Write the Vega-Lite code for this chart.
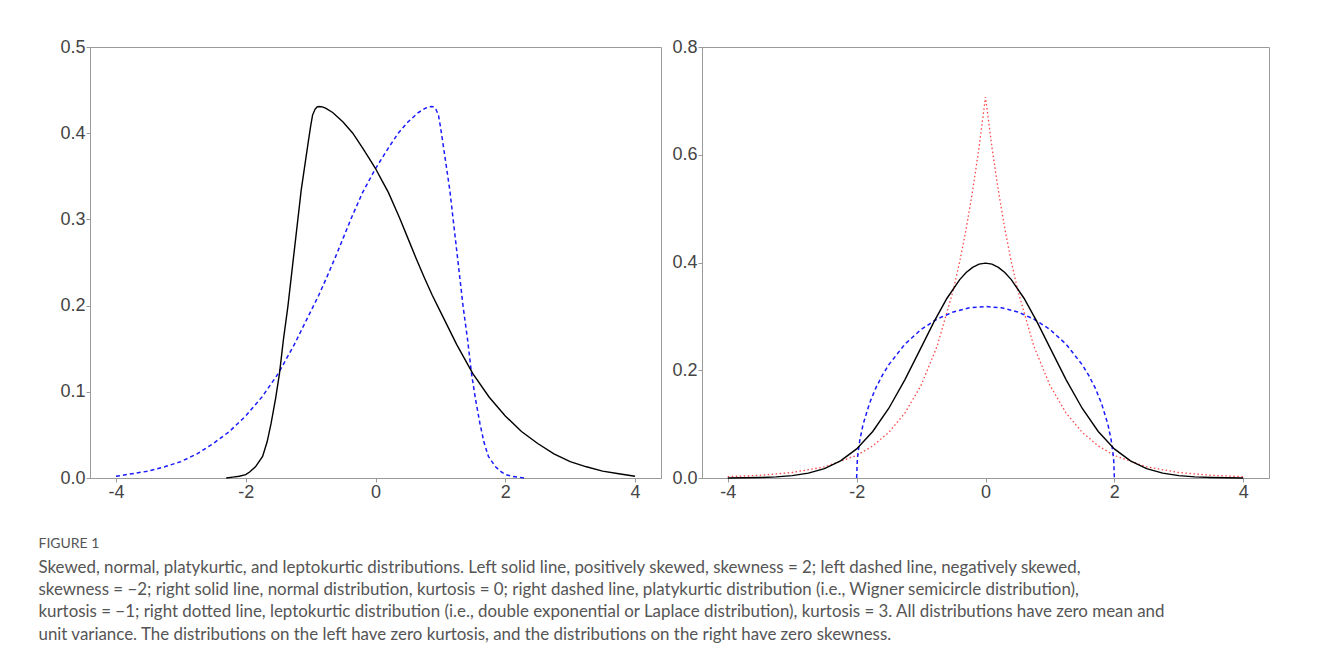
{
  "$schema": "https://vega.github.io/schema/vega-lite/v6.json",
  "background": "white",
  "padding": {"left": 38, "top": 37, "right": 5, "bottom": 5},
  "spacing": 9,
  "datasets": {
    "left": [
      {"series": "pos", "x": -2.3, "y": 0.0},
      {"series": "pos", "x": -2.2, "y": 0.001},
      {"series": "pos", "x": -2.1, "y": 0.002},
      {"series": "pos", "x": -2.0, "y": 0.004},
      {"series": "pos", "x": -1.94, "y": 0.007},
      {"series": "pos", "x": -1.85, "y": 0.013},
      {"series": "pos", "x": -1.74, "y": 0.025},
      {"series": "pos", "x": -1.67, "y": 0.042},
      {"series": "pos", "x": -1.61, "y": 0.063},
      {"series": "pos", "x": -1.54, "y": 0.092},
      {"series": "pos", "x": -1.48, "y": 0.121},
      {"series": "pos", "x": -1.42, "y": 0.16},
      {"series": "pos", "x": -1.35, "y": 0.199},
      {"series": "pos", "x": -1.25, "y": 0.265},
      {"series": "pos", "x": -1.145, "y": 0.334},
      {"series": "pos", "x": -1.04, "y": 0.388},
      {"series": "pos", "x": -1.0, "y": 0.408},
      {"series": "pos", "x": -0.97, "y": 0.421},
      {"series": "pos", "x": -0.93, "y": 0.428},
      {"series": "pos", "x": -0.9, "y": 0.4305},
      {"series": "pos", "x": -0.87, "y": 0.431},
      {"series": "pos", "x": -0.82, "y": 0.4305},
      {"series": "pos", "x": -0.77, "y": 0.429},
      {"series": "pos", "x": -0.66, "y": 0.424},
      {"series": "pos", "x": -0.5, "y": 0.413},
      {"series": "pos", "x": -0.35, "y": 0.4},
      {"series": "pos", "x": -0.2, "y": 0.383},
      {"series": "pos", "x": -0.1, "y": 0.371},
      {"series": "pos", "x": 0.0, "y": 0.359},
      {"series": "pos", "x": 0.1, "y": 0.345},
      {"series": "pos", "x": 0.2, "y": 0.331},
      {"series": "pos", "x": 0.37, "y": 0.302},
      {"series": "pos", "x": 0.5, "y": 0.278},
      {"series": "pos", "x": 0.625, "y": 0.255},
      {"series": "pos", "x": 0.75, "y": 0.233},
      {"series": "pos", "x": 0.875, "y": 0.212},
      {"series": "pos", "x": 1.0, "y": 0.193},
      {"series": "pos", "x": 1.25, "y": 0.155},
      {"series": "pos", "x": 1.5, "y": 0.121},
      {"series": "pos", "x": 1.75, "y": 0.094},
      {"series": "pos", "x": 2.0, "y": 0.072},
      {"series": "pos", "x": 2.25, "y": 0.054},
      {"series": "pos", "x": 2.5, "y": 0.04},
      {"series": "pos", "x": 2.75, "y": 0.028},
      {"series": "pos", "x": 3.0, "y": 0.019},
      {"series": "pos", "x": 3.25, "y": 0.013},
      {"series": "pos", "x": 3.5, "y": 0.008},
      {"series": "pos", "x": 3.75, "y": 0.005},
      {"series": "pos", "x": 4.0, "y": 0.002},
      {"series": "neg", "x": 2.3, "y": 0.0},
      {"series": "neg", "x": 2.2, "y": 0.001},
      {"series": "neg", "x": 2.1, "y": 0.002},
      {"series": "neg", "x": 2.0, "y": 0.004},
      {"series": "neg", "x": 1.94, "y": 0.007},
      {"series": "neg", "x": 1.85, "y": 0.013},
      {"series": "neg", "x": 1.74, "y": 0.025},
      {"series": "neg", "x": 1.67, "y": 0.042},
      {"series": "neg", "x": 1.61, "y": 0.063},
      {"series": "neg", "x": 1.54, "y": 0.092},
      {"series": "neg", "x": 1.48, "y": 0.121},
      {"series": "neg", "x": 1.42, "y": 0.16},
      {"series": "neg", "x": 1.35, "y": 0.199},
      {"series": "neg", "x": 1.25, "y": 0.265},
      {"series": "neg", "x": 1.145, "y": 0.334},
      {"series": "neg", "x": 1.04, "y": 0.388},
      {"series": "neg", "x": 1.0, "y": 0.408},
      {"series": "neg", "x": 0.97, "y": 0.421},
      {"series": "neg", "x": 0.93, "y": 0.428},
      {"series": "neg", "x": 0.9, "y": 0.4305},
      {"series": "neg", "x": 0.87, "y": 0.431},
      {"series": "neg", "x": 0.82, "y": 0.4305},
      {"series": "neg", "x": 0.77, "y": 0.429},
      {"series": "neg", "x": 0.66, "y": 0.424},
      {"series": "neg", "x": 0.5, "y": 0.413},
      {"series": "neg", "x": 0.35, "y": 0.4},
      {"series": "neg", "x": 0.2, "y": 0.383},
      {"series": "neg", "x": 0.1, "y": 0.371},
      {"series": "neg", "x": 0.0, "y": 0.359},
      {"series": "neg", "x": -0.1, "y": 0.345},
      {"series": "neg", "x": -0.2, "y": 0.331},
      {"series": "neg", "x": -0.37, "y": 0.302},
      {"series": "neg", "x": -0.5, "y": 0.278},
      {"series": "neg", "x": -0.625, "y": 0.255},
      {"series": "neg", "x": -0.75, "y": 0.233},
      {"series": "neg", "x": -0.875, "y": 0.212},
      {"series": "neg", "x": -1.0, "y": 0.193},
      {"series": "neg", "x": -1.25, "y": 0.155},
      {"series": "neg", "x": -1.5, "y": 0.121},
      {"series": "neg", "x": -1.75, "y": 0.094},
      {"series": "neg", "x": -2.0, "y": 0.072},
      {"series": "neg", "x": -2.25, "y": 0.054},
      {"series": "neg", "x": -2.5, "y": 0.04},
      {"series": "neg", "x": -2.75, "y": 0.028},
      {"series": "neg", "x": -3.0, "y": 0.019},
      {"series": "neg", "x": -3.25, "y": 0.013},
      {"series": "neg", "x": -3.5, "y": 0.008},
      {"series": "neg", "x": -3.75, "y": 0.005},
      {"series": "neg", "x": -4.0, "y": 0.002}
    ],
    "right": [
      {"series": "laplace", "x": -4.0, "y": 0.0025},
      {"series": "laplace", "x": -3.5, "y": 0.005},
      {"series": "laplace", "x": -3.0, "y": 0.0102},
      {"series": "laplace", "x": -2.5, "y": 0.0206},
      {"series": "laplace", "x": -2.0, "y": 0.0418},
      {"series": "laplace", "x": -1.75, "y": 0.0595},
      {"series": "laplace", "x": -1.5, "y": 0.0848},
      {"series": "laplace", "x": -1.25, "y": 0.1207},
      {"series": "laplace", "x": -1.0, "y": 0.1719},
      {"series": "laplace", "x": -0.75, "y": 0.2448},
      {"series": "laplace", "x": -0.5, "y": 0.3487},
      {"series": "laplace", "x": -0.4, "y": 0.4016},
      {"series": "laplace", "x": -0.3, "y": 0.4626},
      {"series": "laplace", "x": -0.2, "y": 0.5329},
      {"series": "laplace", "x": -0.1, "y": 0.6138},
      {"series": "laplace", "x": 0.0, "y": 0.7071},
      {"series": "laplace", "x": 0.1, "y": 0.6138},
      {"series": "laplace", "x": 0.2, "y": 0.5329},
      {"series": "laplace", "x": 0.3, "y": 0.4626},
      {"series": "laplace", "x": 0.4, "y": 0.4016},
      {"series": "laplace", "x": 0.5, "y": 0.3487},
      {"series": "laplace", "x": 0.75, "y": 0.2448},
      {"series": "laplace", "x": 1.0, "y": 0.1719},
      {"series": "laplace", "x": 1.25, "y": 0.1207},
      {"series": "laplace", "x": 1.5, "y": 0.0848},
      {"series": "laplace", "x": 1.75, "y": 0.0595},
      {"series": "laplace", "x": 2.0, "y": 0.0418},
      {"series": "laplace", "x": 2.5, "y": 0.0206},
      {"series": "laplace", "x": 3.0, "y": 0.0102},
      {"series": "laplace", "x": 3.5, "y": 0.005},
      {"series": "laplace", "x": 4.0, "y": 0.0025},
      {"series": "normal", "x": -4.0, "y": 0.0001},
      {"series": "normal", "x": -3.75, "y": 0.0004},
      {"series": "normal", "x": -3.5, "y": 0.0009},
      {"series": "normal", "x": -3.25, "y": 0.002},
      {"series": "normal", "x": -3.0, "y": 0.0044},
      {"series": "normal", "x": -2.75, "y": 0.0091},
      {"series": "normal", "x": -2.5, "y": 0.0175},
      {"series": "normal", "x": -2.25, "y": 0.0317},
      {"series": "normal", "x": -2.0, "y": 0.054},
      {"series": "normal", "x": -1.75, "y": 0.0863},
      {"series": "normal", "x": -1.5, "y": 0.1295},
      {"series": "normal", "x": -1.25, "y": 0.1826},
      {"series": "normal", "x": -1.0, "y": 0.242},
      {"series": "normal", "x": -0.8, "y": 0.2897},
      {"series": "normal", "x": -0.6, "y": 0.3332},
      {"series": "normal", "x": -0.4, "y": 0.3683},
      {"series": "normal", "x": -0.3, "y": 0.3814},
      {"series": "normal", "x": -0.2, "y": 0.391},
      {"series": "normal", "x": -0.1, "y": 0.397},
      {"series": "normal", "x": 0.0, "y": 0.3989},
      {"series": "normal", "x": 0.1, "y": 0.397},
      {"series": "normal", "x": 0.2, "y": 0.391},
      {"series": "normal", "x": 0.3, "y": 0.3814},
      {"series": "normal", "x": 0.4, "y": 0.3683},
      {"series": "normal", "x": 0.6, "y": 0.3332},
      {"series": "normal", "x": 0.8, "y": 0.2897},
      {"series": "normal", "x": 1.0, "y": 0.242},
      {"series": "normal", "x": 1.25, "y": 0.1826},
      {"series": "normal", "x": 1.5, "y": 0.1295},
      {"series": "normal", "x": 1.75, "y": 0.0863},
      {"series": "normal", "x": 2.0, "y": 0.054},
      {"series": "normal", "x": 2.25, "y": 0.0317},
      {"series": "normal", "x": 2.5, "y": 0.0175},
      {"series": "normal", "x": 2.75, "y": 0.0091},
      {"series": "normal", "x": 3.0, "y": 0.0044},
      {"series": "normal", "x": 3.25, "y": 0.002},
      {"series": "normal", "x": 3.5, "y": 0.0009},
      {"series": "normal", "x": 3.75, "y": 0.0004},
      {"series": "normal", "x": 4.0, "y": 0.0001},
      {"series": "semicircle", "x": -2.0, "y": 0.0},
      {"series": "semicircle", "x": -1.99, "y": 0.0318},
      {"series": "semicircle", "x": -1.98, "y": 0.0449},
      {"series": "semicircle", "x": -1.95, "y": 0.0707},
      {"series": "semicircle", "x": -1.9, "y": 0.0994},
      {"series": "semicircle", "x": -1.8, "y": 0.1387},
      {"series": "semicircle", "x": -1.7, "y": 0.1677},
      {"series": "semicircle", "x": -1.6, "y": 0.191},
      {"series": "semicircle", "x": -1.5, "y": 0.2105},
      {"series": "semicircle", "x": -1.25, "y": 0.2485},
      {"series": "semicircle", "x": -1.0, "y": 0.2757},
      {"series": "semicircle", "x": -0.75, "y": 0.2951},
      {"series": "semicircle", "x": -0.5, "y": 0.3082},
      {"series": "semicircle", "x": -0.25, "y": 0.3158},
      {"series": "semicircle", "x": 0.0, "y": 0.3183},
      {"series": "semicircle", "x": 0.25, "y": 0.3158},
      {"series": "semicircle", "x": 0.5, "y": 0.3082},
      {"series": "semicircle", "x": 0.75, "y": 0.2951},
      {"series": "semicircle", "x": 1.0, "y": 0.2757},
      {"series": "semicircle", "x": 1.25, "y": 0.2485},
      {"series": "semicircle", "x": 1.5, "y": 0.2105},
      {"series": "semicircle", "x": 1.6, "y": 0.191},
      {"series": "semicircle", "x": 1.7, "y": 0.1677},
      {"series": "semicircle", "x": 1.8, "y": 0.1387},
      {"series": "semicircle", "x": 1.9, "y": 0.0994},
      {"series": "semicircle", "x": 1.95, "y": 0.0707},
      {"series": "semicircle", "x": 1.98, "y": 0.0449},
      {"series": "semicircle", "x": 1.99, "y": 0.0318},
      {"series": "semicircle", "x": 2.0, "y": 0.0}
    ]
  },
  "title": {
    "text": "FIGURE 1",
    "subtitle": [
      "Skewed, normal, platykurtic, and leptokurtic distributions. Left solid line, positively skewed, skewness = 2; left dashed line, negatively skewed,",
      "skewness = \u22122; right solid line, normal distribution, kurtosis = 0; right dashed line, platykurtic distribution (i.e., Wigner semicircle distribution),",
      "kurtosis = \u22121; right dotted line, leptokurtic distribution (i.e., double exponential or Laplace distribution), kurtosis = 3. All distributions have zero mean and",
      "unit variance. The distributions on the left have zero kurtosis, and the distributions on the right have zero skewness."
    ],
    "orient": "bottom",
    "anchor": "start",
    "dx": -21,
    "offset": 35,
    "font": "Lato",
    "fontSize": 14,
    "fontWeight": "normal",
    "color": "#555555",
    "subtitleFont": "Lato",
    "subtitleFontSize": 16.9,
    "subtitleColor": "#555555",
    "subtitleLineHeight": 22.4,
    "subtitlePadding": 9
  },
  "config": {
    "view": {"stroke": "#9a9a9a", "strokeWidth": 1},
    "axis": {
      "grid": false,
      "title": null,
      "domainColor": "#9a9a9a",
      "tickColor": "#9a9a9a",
      "tickSize": 4,
      "labelFont": "Liberation Sans",
      "labelFontSize": 18,
      "labelColor": "#444444",
      "labelPadding": 1
    },
    "line": {"strokeCap": "butt"}
  },
  "hconcat": [
    {
      "width": 571,
      "height": 431,
      "data": {"name": "left"},
      "encoding": {
        "x": {"field": "x", "type": "quantitative", "scale": {"domain": [-4.4, 4.4], "nice": false, "zero": false}, "axis": {"values": [-4, -2, 0, 2, 4], "labelExpr": "'' + datum.value", "labelFontSize": 18, "labelFont": "Liberation Sans", "labelColor": "#444444"}},
        "y": {"field": "y", "type": "quantitative", "scale": {"domain": [0, 0.5], "nice": false}, "axis": {"values": [0, 0.1, 0.2, 0.3, 0.4, 0.5], "format": ".1f", "labelFontSize": 18, "labelFont": "Liberation Sans", "labelColor": "#444444"}}
      },
      "layer": [
        {"transform": [{"filter": "datum.series === 'neg'"}], "mark": {"type": "line", "color": "#1a1aff", "strokeWidth": 1.5, "strokeDash": [4, 3]}},
        {"transform": [{"filter": "datum.series === 'pos'"}], "mark": {"type": "line", "color": "#000000", "strokeWidth": 1.4}}
      ]
    },
    {
      "width": 567,
      "height": 431,
      "data": {"name": "right"},
      "encoding": {
        "x": {"field": "x", "type": "quantitative", "scale": {"domain": [-4.4, 4.4], "nice": false, "zero": false}, "axis": {"values": [-4, -2, 0, 2, 4], "labelExpr": "'' + datum.value", "labelFontSize": 18, "labelFont": "Liberation Sans", "labelColor": "#444444"}},
        "y": {"field": "y", "type": "quantitative", "scale": {"domain": [0, 0.8], "nice": false}, "axis": {"values": [0, 0.2, 0.4, 0.6, 0.8], "format": ".1f", "labelFontSize": 18, "labelFont": "Liberation Sans", "labelColor": "#444444"}}
      },
      "layer": [
        {"transform": [{"filter": "datum.series === 'laplace'"}], "mark": {"type": "line", "color": "#ff4444", "strokeWidth": 1.3, "strokeDash": [1.5, 2.5]}},
        {"transform": [{"filter": "datum.series === 'semicircle'"}], "mark": {"type": "line", "color": "#1a1aff", "strokeWidth": 1.5, "strokeDash": [4, 3]}},
        {"transform": [{"filter": "datum.series === 'normal'"}], "mark": {"type": "line", "color": "#000000", "strokeWidth": 1.4}}
      ]
    }
  ]
}
